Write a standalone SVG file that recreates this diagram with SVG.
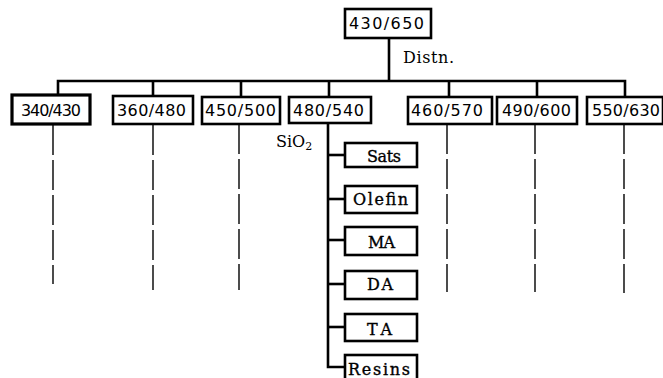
<svg xmlns="http://www.w3.org/2000/svg" width="663" height="378" viewBox="0 0 663 378">
  <style>
    .box { fill: #fff; stroke: #000; stroke-width: 2.6; }
    .cut { font-family: "DejaVu Sans", "Liberation Sans", sans-serif; font-size: 16px; fill: #000; }
    .frac { font-family: "DejaVu Serif", "Liberation Serif", serif; font-size: 16px; fill: #000; stroke: #000; stroke-width: 0.35; }
    .lbl { font-family: "DejaVu Serif", "Liberation Serif", serif; font-size: 16px; fill: #000; }
    .wire { fill: none; stroke: #000; stroke-width: 2.6; }
    .dash { fill: none; stroke: #000; stroke-width: 1.4; stroke-dasharray: 30 5; }
  </style>

  <!-- connectors -->
  <g id="connectors">
    <path class="wire" d="M389 38 V81"/>
    <path class="wire" d="M58 95 V81 H625 V97"/>
    <path class="wire" d="M153 81 V96"/>
    <path class="wire" d="M241 81 V97"/>
    <path class="wire" d="M329 81 V97"/>
    <path class="wire" d="M449 81 V97"/>
    <path class="wire" d="M537 81 V97"/>
    <!-- silica column split -->
    <path class="wire" d="M328 123 V367 H345"/>
    <path class="wire" d="M328 155 H345"/>
    <path class="wire" d="M328 199 H345"/>
    <path class="wire" d="M328 240 H345"/>
    <path class="wire" d="M328 284 H345"/>
    <path class="wire" d="M328 327 H345"/>
    <!-- further work, dashed -->
    <path class="dash" d="M53 125 V284"/>
    <path class="dash" d="M153 125 V290"/>
    <path class="dash" d="M239 124 V290"/>
    <path class="dash" d="M447 124 V292"/>
    <path class="dash" d="M535 124 V292"/>
    <path class="dash" d="M624 124 V293"/>
  </g>

  <!-- feed -->
  <g id="feed">
    <rect class="box" x="345" y="9" width="86" height="29"/>
    <text class="cut" x="349" y="29" textLength="75" lengthAdjust="spacing">430/650</text>
  </g>
  <text class="lbl" x="403" y="63" textLength="51" lengthAdjust="spacing">Distn.</text>

  <!-- distillate cuts -->
  <g id="cut-340-430">
    <rect class="box" x="12" y="95" width="78" height="29" style="stroke-width:3.2"/>
    <text class="cut" x="21" y="116" textLength="60" lengthAdjust="spacing">340/430</text>
  </g>
  <g id="cut-360-480">
    <rect class="box" x="113" y="96" width="80" height="28"/>
    <text class="cut" x="117" y="116" textLength="69" lengthAdjust="spacing">360/480</text>
  </g>
  <g id="cut-450-500">
    <rect class="box" x="202" y="97" width="78" height="27"/>
    <text class="cut" x="205" y="116" textLength="71" lengthAdjust="spacing">450/500</text>
  </g>
  <g id="cut-480-540">
    <rect class="box" x="289" y="97" width="82" height="26"/>
    <text class="cut" x="293" y="116" textLength="71" lengthAdjust="spacing">480/540</text>
  </g>
  <g id="cut-460-570">
    <rect class="box" x="408" y="97" width="84" height="27"/>
    <text class="cut" x="411" y="116" textLength="72" lengthAdjust="spacing">460/570</text>
  </g>
  <g id="cut-490-600">
    <rect class="box" x="497" y="97" width="80" height="27"/>
    <text class="cut" x="502" y="116" textLength="69" lengthAdjust="spacing">490/600</text>
  </g>
  <g id="cut-550-630">
    <rect class="box" x="587" y="97" width="76" height="27"/>
    <text class="cut" x="592" y="116" textLength="68" lengthAdjust="spacing">550/630</text>
  </g>

  <text class="lbl" x="276" y="147">SiO<tspan font-size="11" dy="3">2</tspan></text>

  <!-- silica fractions -->
  <g id="frac-sats">
    <rect class="box" x="345" y="143" width="72" height="24"/>
    <text class="frac" x="367" y="162" textLength="34" lengthAdjust="spacing">Sats</text>
  </g>
  <g id="frac-olefin">
    <rect class="box" x="345" y="186" width="72" height="27"/>
    <text class="frac" x="353" y="205" textLength="55" lengthAdjust="spacing">Olefin</text>
  </g>
  <g id="frac-ma">
    <rect class="box" x="345" y="227" width="72" height="28"/>
    <text class="frac" x="368" y="248" textLength="27" lengthAdjust="spacing">MA</text>
  </g>
  <g id="frac-da">
    <rect class="box" x="345" y="271" width="72" height="28"/>
    <text class="frac" x="367" y="290" textLength="26" lengthAdjust="spacing">DA</text>
  </g>
  <g id="frac-ta">
    <rect class="box" x="345" y="314" width="72" height="27"/>
    <text class="frac" x="367" y="335" textLength="25" lengthAdjust="spacing">TA</text>
  </g>
  <g id="frac-resins">
    <rect class="box" x="345" y="355" width="72" height="30"/>
    <text class="frac" x="348" y="375" textLength="62" lengthAdjust="spacing">Resins</text>
  </g>
</svg>
